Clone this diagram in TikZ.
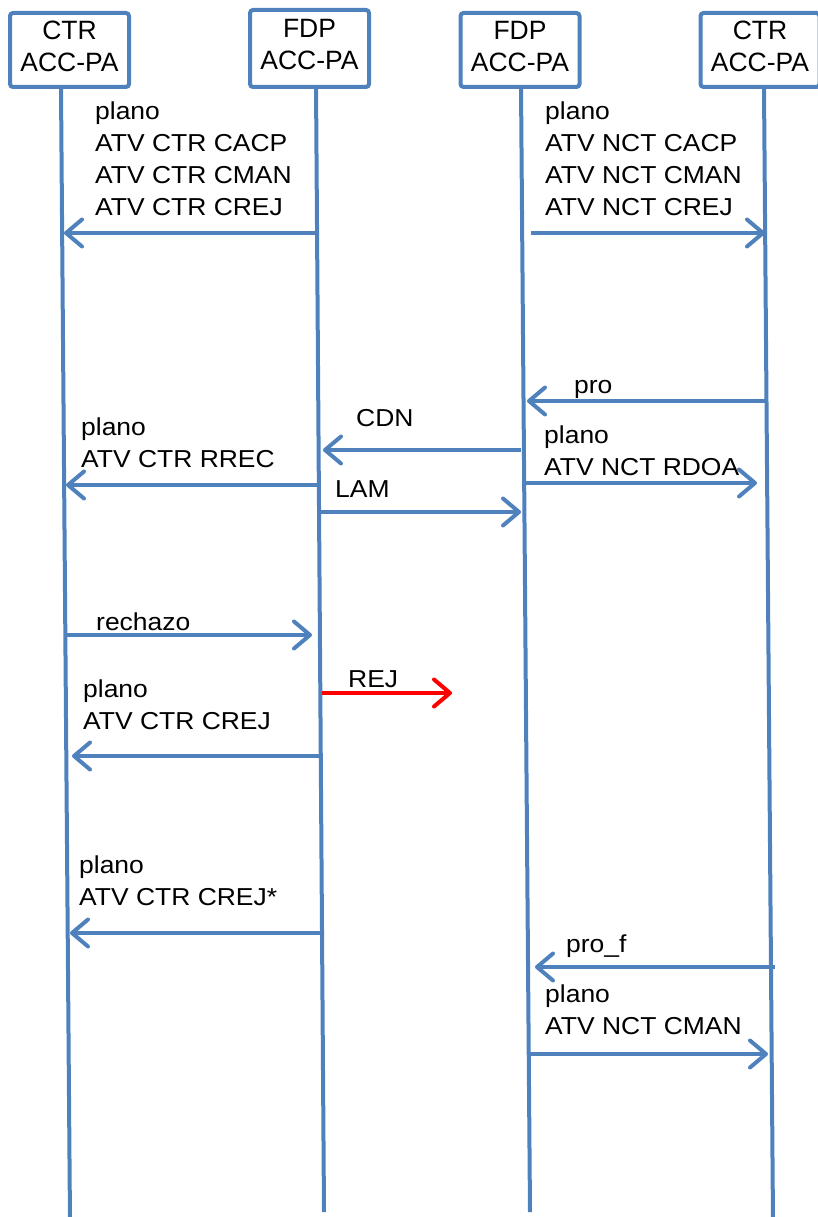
\documentclass[tikz,border=0pt]{standalone}
\usepackage{fontspec}
\setmainfont{Liberation Sans}
\newfontfamily\lblfont{Liberation Sans}[FakeStretch=1.08]
\usetikzlibrary{arrows.meta}
\definecolor{lineblue}{HTML}{4F81BD}
\definecolor{rejred}{HTML}{FF0000}
\tikzset{
  head/.style={draw=lineblue, line width=4pt, rounded corners=3pt, fill=white,
    minimum width=119pt, minimum height=74pt, align=center, inner sep=0pt,
    text depth=8pt, font=\fontsize{26.5}{32}\selectfont},
  life/.style={draw=lineblue, line width=4pt},
  msg/.style={draw=lineblue, line width=4pt, -{Straight Barb[length=16pt,width=27pt,round]}},
  rejmsg/.style={msg, draw=rejred},
  lab/.style={anchor=base west, inner sep=0pt, align=left,
    font=\lblfont\fontsize{24.5}{31.7}\selectfont},
}
\begin{document}
\begin{tikzpicture}[x=1pt,y=-1pt]
\useasboundingbox (0,0) rectangle (817,1217);
% lifelines
\coordinate (l1t) at (61,89);  \coordinate (l1b) at (70,1222);
\coordinate (l2t) at (316,84); \coordinate (l2b) at (324,1212);
\coordinate (l3t) at (521,86); \coordinate (l3b) at (530,1212);
\coordinate (l4t) at (764,89); \coordinate (l4b) at (773,1222);
\draw[life] (l1t) -- (l1b);
\draw[life] (l2t) -- (l2b);
\draw[life] (l3t) -- (l3b);
\draw[life] (l4t) -- (l4b);
% headers
\node[head] (h1) at (69.5,50) {CTR\\ACC-PA};
\node[head] (h2) at (309.5,48.5) [minimum height=77pt] {FDP\\ACC-PA};
\node[head] (h3) at (520,50) {FDP\\ACC-PA};
\node[head] (h4) at (760,50) {CTR\\ACC-PA};
% message endpoints
\coordinate (a1s) at (316,233); \coordinate (a1e) at (64,233);
\coordinate (a2s) at (531,233); \coordinate (a2e) at (765,233);
\coordinate (a3s) at (766,401); \coordinate (a3e) at (527,401);
\coordinate (a4s) at (521,450); \coordinate (a4e) at (323,450);
\coordinate (a5s) at (319,485); \coordinate (a5e) at (66,485);
\coordinate (a6s) at (523,483); \coordinate (a6e) at (757,483);
\coordinate (a7s) at (320,512); \coordinate (a7e) at (521,512);
\coordinate (a8s) at (66,635);  \coordinate (a8e) at (312,635);
\coordinate (a9s) at (322,693); \coordinate (a9e) at (452,693);
\coordinate (a10s) at (323,756); \coordinate (a10e) at (72,756);
\coordinate (a11s) at (322,933); \coordinate (a11e) at (70,933);
\coordinate (a12s) at (775,967); \coordinate (a12e) at (535,967);
\coordinate (a13s) at (530,1054); \coordinate (a13e) at (768,1054);
\draw[msg] (a1s) -- (a1e);
\draw[msg] (a2s) -- (a2e);
\draw[msg] (a3s) -- (a3e);
\draw[msg] (a4s) -- (a4e);
\draw[msg] (a5s) -- (a5e);
\draw[msg] (a6s) -- (a6e);
\draw[msg] (a7s) -- (a7e);
\draw[msg] (a8s) -- (a8e);
\draw[rejmsg] (a9s) -- (a9e);
\draw[msg] (a10s) -- (a10e);
\draw[msg] (a11s) -- (a11e);
\draw[msg] (a12s) -- (a12e);
\draw[msg] (a13s) -- (a13e);
% labels (anchored at the baseline of their last line)
\node[lab] (t1) at (95,215) {plano\\ATV CTR CACP\\ATV CTR CMAN\\ATV CTR CREJ};
\node[lab] (t2) at (545,215) {plano\\ATV NCT CACP\\ATV NCT CMAN\\ATV NCT CREJ};
\node[lab] (t3) at (574,393) {pro};
\node[lab] (t4) at (356,426) {CDN};
\node[lab] (t5) at (81,467) {plano\\ATV CTR RREC};
\node[lab] (t6) at (544,475) {plano\\ATV NCT RDOA};
\node[lab] (t7) at (335,497) {LAM};
\node[lab] (t8) at (96,630) {rechazo};
\node[lab] (t9) at (348,687) {REJ};
\node[lab] (t10) at (83,729) {plano\\ATV CTR CREJ};
\node[lab] (t11) at (79,905) {plano\\ATV CTR CREJ*};
\node[lab] (t12) at (566,952) {pro\_f};
\node[lab] (t13) at (545,1034) {plano\\ATV NCT CMAN};
\end{tikzpicture}
\end{document}
